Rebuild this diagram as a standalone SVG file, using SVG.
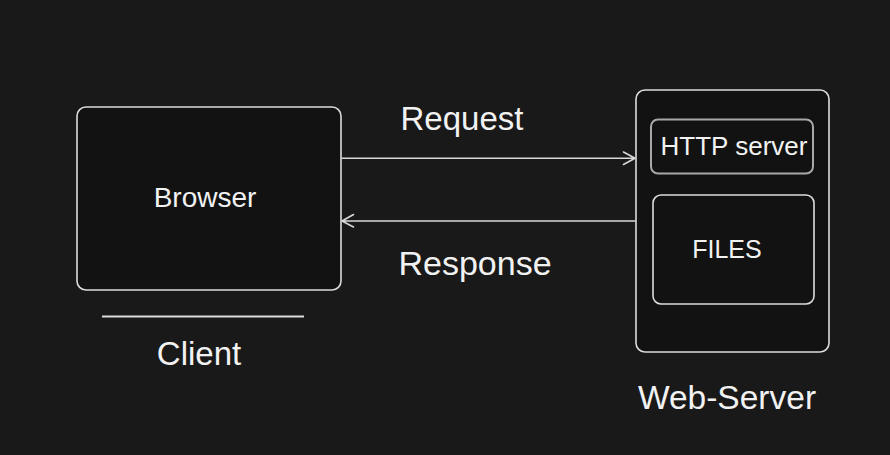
<svg xmlns="http://www.w3.org/2000/svg" width="890" height="455" viewBox="0 0 890 455">
<style>
.box{fill:#121212;stroke:#dcdcdc;stroke-width:1.6}
.inner{fill:#121212;stroke:#a8a8a8;stroke-width:2}
.t{font-family:"Liberation Sans",Arial,sans-serif;fill:#f2f2f2;text-anchor:middle}
.conn{stroke:#d8d8d8;stroke-width:1.6;fill:none;stroke-linecap:round;stroke-linejoin:round}
</style>
<rect width="890" height="455" fill="#191919"/>
<g id="browser">
<rect class="box" x="77" y="107" width="264" height="183" rx="9"/>
<text class="t" x="205" y="207" font-size="28">Browser</text>
</g>
<g id="client">
<line x1="102" y1="316.5" x2="304" y2="316.5" stroke="#dcdcdc" stroke-width="2"/>
<text class="t" x="199" y="365" font-size="33">Client</text>
</g>
<g id="web-server">
<rect class="box" x="636" y="90" width="193" height="262" rx="9"/>
<text class="t" x="727" y="409" font-size="33.5">Web-Server</text>
</g>
<g id="http-server">
<rect class="inner" x="651" y="119.5" width="162" height="54" rx="7"/>
<text class="t" x="734" y="154.5" font-size="26">HTTP server</text>
</g>
<g id="files">
<rect class="box" x="653" y="195" width="161" height="109" rx="8"/>
<text class="t" x="727" y="258" font-size="25">FILES</text>
</g>
<g id="labels">
<text class="t" x="462" y="129.5" font-size="33">Request</text>
<text class="t" x="475" y="275" font-size="34">Response</text>
</g>
<g id="connectors">
<path class="conn" d="M342 158.3 L635 158.3 M623.5 152 L635 158.3 L623.5 164.5"/>
<path class="conn" d="M635 221 L342 221 M353.5 214.5 L342 221 L353.5 227"/>
</g>
</svg>
